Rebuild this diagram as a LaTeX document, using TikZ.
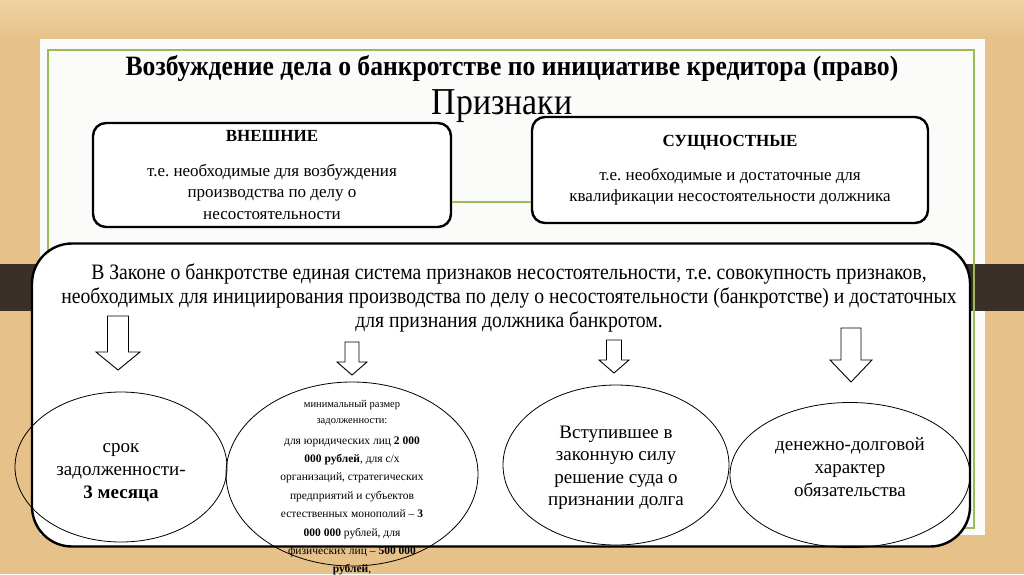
\documentclass[tikz,border=0pt]{standalone}
\usepackage{fontspec}
\setmainfont{Liberation Serif}
\newfontfamily\narrowfont[FakeStretch=0.895]{Liberation Serif}
\newfontfamily\titlefont[FakeStretch=0.915]{Liberation Serif}
\newfontfamily\signfont[FakeStretch=0.89]{Liberation Serif}
\usetikzlibrary{shapes.geometric,positioning}

\definecolor{woodtan}{HTML}{E6C18A}
\definecolor{woodlight}{HTML}{EFD3A3}
\definecolor{woodbar}{HTML}{3A3027}
\definecolor{framegreen}{HTML}{9BBB59}
\definecolor{slidewhite}{HTML}{FBFBFA}
\frenchspacing

\begin{document}
\begin{tikzpicture}[
    x=1pt, y=-1pt,
    every node/.style={inner sep=0pt, align=center},
    signbox/.style={draw, line width=2.4pt, rounded corners=13pt, fill=white},
    lawbox/.style={draw, line width=2.4pt, rounded corners=40pt, fill=white},
    oval/.style={draw, ellipse, line width=0.8pt},
    blockarrow/.style={draw, fill=white, line width=0.9pt, line join=miter},
    greenlink/.style={framegreen, line width=1.2pt}
  ]
  \useasboundingbox (0,0) rectangle (1024,574);

  % background and slide
  \fill[woodtan] (0,0) rectangle (1024,574);
  \shade[top color=woodlight, bottom color=woodtan] (0,0) rectangle (1024,40);
  \fill[woodbar] (0,264) rectangle (40,311);
  \fill[slidewhite] (40,39) rectangle (985,535);
  \fill[woodbar] (963,264) rectangle (1024,311);
  \draw[greenlink] (48,50) rectangle (974,528);

  % headings
  \node[font=\titlefont\bfseries\fontsize{28}{31}\selectfont] (title) at (512,68)
    {Возбуждение дела о банкротстве по инициативе кредитора (право)};
  \node[font=\signfont\fontsize{38}{40}\selectfont] (signs) at (502,106) {Признаки};

  % two kinds of signs
  \node[signbox, minimum width=358, minimum height=104, font=\fontsize{17}{21.5}\selectfont] (outer) at (272,175)
    {{\bfseries ВНЕШНИЕ}\\[13pt]
     т.е. необходимые для возбуждения\\ производства по делу о\\ несостоятельности};
  \node[signbox, minimum width=396, minimum height=106, font=\fontsize{17}{21}\selectfont] (inner) at (730,170)
    {{\bfseries СУЩНОСТНЫЕ}\\[13pt]
     т.е. необходимые и достаточные для\\ квалификации несостоятельности должника};
  \coordinate (link) at (0,202);
  \draw[greenlink] (outer.east |- link) -- (inner.west |- link);

  % the law
  \node[lawbox, minimum width=938, minimum height=303] (law) at (501,395) {};
  \node[font=\narrowfont\fontsize{22}{24}\selectfont] (lawtext) at (509,298)
    {В Законе о банкротстве единая система признаков несостоятельности, т.е. совокупность признаков,\\
     необходимых для инициирования производства по делу о несостоятельности (банкротстве) и достаточных\\
     для признания должника банкротом.};

  % four signs
  \node[oval, minimum width=212, minimum height=150] (term) at (121,467) {};
  \node[oval, minimum width=252, minimum height=184] (debt) at (352,474) {};
  \node[oval, minimum width=226, minimum height=160] (court) at (616,465) {};
  \node[oval, minimum width=240, minimum height=145] (money) at (850,475) {};

  \node[font=\fontsize{19}{23}\selectfont] (termtext) at (121,473) {срок\\ задолженности-\\ \textbf{3 месяца}};
  \node[font=\fontsize{10.5}{15.5}\selectfont] (debthead) at (352,413) {минимальный размер\\ задолженности:};
  \node[font=\fontsize{11.5}{18.4}\selectfont] (debttext) at (352,506)
    {для юридических лиц \textbf{2 000}\\ \textbf{000 рублей}, для с/х\\ организаций, стратегических\\
     предприятий и субъектов\\ естественных монополий -- \textbf{3}\\ \textbf{000 000} рублей, для\\
     физических лиц -- \textbf{500 000}\\ \textbf{рублей},};
  \node[font=\fontsize{19}{22.5}\selectfont] (courttext) at (616,468)
    {Вступившее в\\ законную силу\\ решение суда о\\ признании долга};
  \node[font=\fontsize{19}{23}\selectfont] (moneytext) at (850,467)
    {денежно-долговой\\ характер\\ обязательства};

  % arrows from the law to the signs
  \foreach \cx/\ya/\yb/\yc/\sw/\hw in {118/316/352/370/10.5/22, 352/342/362/375/7/15,
                                       614/340/360/373/7.5/15, 851/328/360/382/10/21}
    \draw[blockarrow] (\cx-\sw,\ya) -- (\cx+\sw,\ya) -- (\cx+\sw,\yb) -- (\cx+\hw,\yb)
      -- (\cx,\yc) -- (\cx-\hw,\yb) -- (\cx-\sw,\yb) -- cycle;
\end{tikzpicture}
\end{document}
